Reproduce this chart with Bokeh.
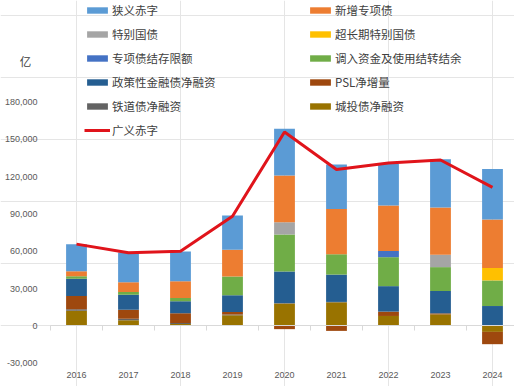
import numpy as np
from bokeh.plotting import figure
from bokeh.models import (Range1d, FixedTicker, LinearAxis, NumeralTickFormatter,
                          Legend, LegendItem, Label)
from bokeh.embed import file_html
from bokeh.resources import INLINE

# ---------------- data ----------------
years = ["2016", "2017", "2018", "2019", "2020", "2021", "2022", "2023", "2024"]

# stacked series, bottom -> top
chengtou   = [12200, 4600, 1500, 8600, 18000, 19000, 8000, 9300, -4800]   # 城投债净融资
tiedao     = [1200, 1200, 800, 500, 400, 300, 0, 0, 0]                    # 铁道债净融资
psl        = [10600, 7300, 7900, 2100, -2600, -4000, 3500, 800, -9900]    # PSL净增量
zhengce    = [14000, 12000, 9600, 13400, 25400, 22000, 20500, 18000, 16000]  # 政策性金融债净融资
diaoru     = [2000, 2100, 2700, 15200, 29700, 16300, 23300, 19200, 20600]    # 调入资金及使用结转结余
jiecun     = [0, 0, 0, 0, 0, 0, 5000, 0, 0]                                # 专项债结存限额
chaochang  = [0, 0, 0, 0, 0, 0, 0, 0, 10000]                               # 超长期特别国债
tebie      = [0, 0, 0, 0, 10000, 0, 0, 10000, 0]                           # 特别国债
zhuanxiang = [4000, 8000, 13500, 21500, 37500, 36500, 36500, 38000, 39000]   # 新增专项债
chizi      = [21800, 23800, 23800, 27600, 37600, 35700, 33700, 38800, 40600]  # 狭义赤字

guangyi    = [65800, 58900, 60100, 88200, 156000, 125800, 131000, 133500, 111500]  # 广义赤字

stack_names = ["城投债净融资", "铁道债净融资", "PSL净增量", "政策性金融债净融资",
               "调入资金及使用结转结余", "专项债结存限额", "超长期特别国债", "特别国债",
               "新增专项债", "狭义赤字"]
stack_values = [chengtou, tiedao, psl, zhengce, diaoru, jiecun, chaochang, tebie,
                zhuanxiang, chizi]
stack_colors = ["#997300", "#636363", "#9E480E", "#255E91", "#70AD47", "#4472C4",
                "#FFC000", "#A5A5A5", "#ED7D31", "#5B9BD5"]
line_name = "广义赤字"
line_color = "#E0141B"

legend_order = ["狭义赤字", "新增专项债", "特别国债", "超长期特别国债", "专项债结存限额",
                "调入资金及使用结转结余", "政策性金融债净融资", "PSL净增量",
                "铁道债净融资", "城投债净融资", "广义赤字"]

y_ticks = [-30000, 0, 30000, 60000, 90000, 120000, 150000, 180000]
unit_label = "亿"

# ---------------- figure ----------------
n = len(years)
x = np.arange(n)
cat_px = 52.0      # pixels per category
left_px = 50.0     # page x of first category boundary
W, H = 514, 386
x_start = -0.5 - left_px / cat_px
x_end = -0.5 + (W - left_px) / cat_px

p = figure(width=W, height=H, output_backend="svg", toolbar_location=None,
           x_range=Range1d(x_start, x_end), y_range=Range1d(-48747, 261828),
           x_axis_location=None, y_axis_location=None,
           min_border_left=0, min_border_right=0,
           min_border_top=0, min_border_bottom=0)
p.outline_line_color = None
p.background_fill_color = "white"
p.border_fill_color = "white"

# y axis, fixed at the first category boundary
ya = LinearAxis(fixed_location=-0.5, ticker=FixedTicker(ticks=y_ticks),
                formatter=NumeralTickFormatter(format="0,0"))
ya.axis_line_color = None
ya.major_tick_line_color = None
ya.major_tick_out = 0
ya.major_tick_in = 0
ya.minor_tick_line_color = None
ya.major_label_standoff = 13
ya.major_label_text_font = "Liberation Sans"
ya.major_label_text_font_size = "9px"
ya.major_label_text_color = "#595959"
p.add_layout(ya, "left")

# stacked bars (positives up, negatives down)
pos_base = np.zeros(n)
neg_base = np.zeros(n)
renderers = {}
for name, vals, col in zip(stack_names, stack_values, stack_colors):
    v = np.array(vals, dtype=float)
    pos = np.clip(v, 0, None)
    neg = np.clip(v, None, 0)
    r = p.vbar(x=x, width=0.4, bottom=pos_base.copy(), top=pos_base + pos,
               fill_color=col, line_color=None)
    pos_base = pos_base + pos
    if (neg < 0).any():
        p.vbar(x=x, width=0.4, bottom=neg_base + neg, top=neg_base.copy(),
               fill_color=col, line_color=None)
        neg_base = neg_base + neg
    renderers[name] = r

# zero axis with boundary ticks
ax0 = LinearAxis(fixed_location=0, bounds=(-0.5, x_end),
                 ticker=FixedTicker(ticks=[i - 0.5 for i in range(n + 1)]))
ax0.axis_line_color = "#D9D9D9"
ax0.major_tick_line_color = "#D9D9D9"
ax0.major_tick_out = 5
ax0.major_tick_in = 0
ax0.minor_tick_line_color = None
ax0.major_label_text_font_size = "0px"
ax0.major_label_text_alpha = 0
p.add_layout(ax0, "below")

# year labels
ax1 = LinearAxis(fixed_location=0, ticker=FixedTicker(ticks=list(range(n))),
                 major_label_overrides={i: years[i] for i in range(n)})
ax1.axis_line_color = None
ax1.major_tick_line_color = None
ax1.major_tick_out = 0
ax1.major_tick_in = 0
ax1.minor_tick_line_color = None
ax1.major_label_standoff = 46
ax1.major_label_text_font = "Liberation Sans"
ax1.major_label_text_font_size = "9px"
ax1.major_label_text_color = "#595959"
p.add_layout(ax1, "below")

# broad deficit line
lr = p.line(x=x, y=guangyi, line_color=line_color, line_width=3)
renderers[line_name] = lr

# unit label
p.add_layout(Label(x=-0.5, y=213552, x_offset=-25, text=unit_label,
                   text_align="center", text_baseline="middle",
                   text_font="Noto Sans CJK SC", text_font_size="11.5px",
                   text_color="#404040"))

# legends (two columns)
def make_legend(names, loc):
    items = [LegendItem(label=nm, renderers=[renderers[nm]]) for nm in names]
    lg = Legend(items=items, location=loc, orientation="vertical",
                label_text_font="Noto Sans CJK SC", label_text_font_size="11.5px",
                label_text_color="#404040", glyph_width=26, glyph_height=8,
                label_height=20, spacing=4, padding=0, margin=0,
                label_standoff=2, border_line_color=None,
                background_fill_alpha=0)
    return lg

left_names = legend_order[0::2]
right_names = legend_order[1::2]
p.add_layout(make_legend(left_names, (84, H - (6 * 20 + 5 * 4))), "center")
p.add_layout(make_legend(right_names, (307, H - (5 * 20 + 4 * 4))), "center")

open("out.html", "w").write(file_html(p, INLINE))
